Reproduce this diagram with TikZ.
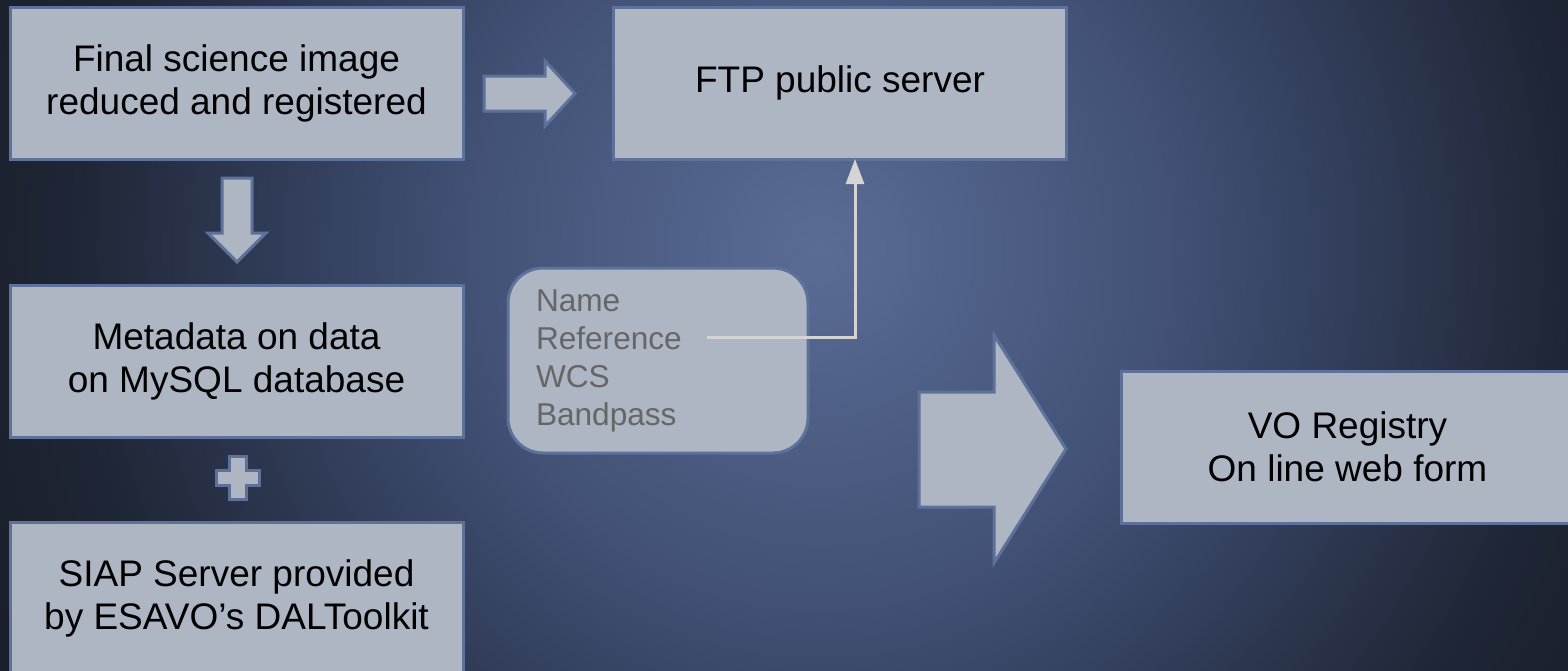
\documentclass[tikz,border=0pt]{standalone}
\usepackage{fontspec}
\setmainfont{Liberation Sans}
\usepackage{tikz}
\usetikzlibrary{arrows.meta}
\definecolor{boxfill}{HTML}{AEB5C3}
\definecolor{boxline}{HTML}{5D719B}
\definecolor{listtext}{HTML}{666666}
\definecolor{linkline}{HTML}{D4D4D4}
\definecolor{bgmid}{HTML}{5A6C96}
\definecolor{bgmidb}{HTML}{425175}
\definecolor{bgmidc}{HTML}{374464}
\definecolor{bgdark}{HTML}{1E2534}
\definecolor{bgedge}{HTML}{1A1F2B}
\pgfdeclareradialshading{bgglow}{\pgfpoint{0bp}{0bp}}{color(0bp)=(bgmid); color(9.7bp)=(bgmidb); color(13bp)=(bgmidc); color(21bp)=(bgdark); color(25bp)=(bgedge); color(50bp)=(bgedge)}
\tikzset{
stage/.style={draw=boxline, fill=boxfill, line width=1.5pt,
    minimum width=226.5pt, minimum height=76pt, align=center,
    font=\fontsize{18.5}{21.5}\selectfont, text=black},
fields/.style={draw=boxline, fill=boxfill, line width=1.5pt,
    rounded corners=17.5pt, minimum width=150pt, minimum height=92.5pt,
    text width=122pt, inner xsep=14pt, align=left,
    font=\fontsize{15.8}{19}\selectfont, text=listtext},
blockarrow/.style={draw=boxline, fill=boxfill, line width=1.5pt, line join=miter},
link/.style={draw=linkline, line width=1.5pt, -{Triangle[width=9pt,length=12.5pt]}}}
\begin{document}
\begin{tikzpicture}[x=0.5pt,y=-0.5pt]

                \useasboundingbox (0,0) rectangle (1568,670);
                \clip (0,0) rectangle (1568,670);
                \shade[shading=bgglow] (-80,-650) rectangle (1720,1150);

                \node[stage] (final) at (236.5,83) {Final science image\\reduced and registered};
                \node[stage] (ftp) at (840,83) {FTP public server};
                \node[stage] (meta) at (236.5,361) {Metadata on data\\on MySQL database};
                \node[stage] (siap) at (236.5,598) {SIAP Server provided\\by ESAVO’s DALToolkit};
                \node[stage] (vo) at (1347.5,447) {VO Registry\\On line web form};
                \node[fields] (list) at (658,360.5) {Name\\Reference\\WCS\\Bandpass};

                \draw[blockarrow] (484,76) -- (545,76) -- (545,61) -- (575,93.5) -- (545,126) -- (545,111) -- (484,111) -- cycle;
                \draw[blockarrow] (222,178) -- (252,178) -- (252,233) -- (266,233) -- (237,262) -- (208,233) -- (222,233) -- cycle;
                \draw[blockarrow] (919,392) -- (994,392) -- (994,335) -- (1066,449) -- (994,563) -- (994,507) -- (919,507) -- cycle;
                \draw[blockarrow] (229,456) -- (246,456) -- (246,470) -- (259,470) -- (259,485) -- (246,485) -- (246,499) -- (229,499)
                    -- (229,485) -- (216,485) -- (216,470) -- (229,470) -- cycle;

                \coordinate (refend) at (707,337);
                \coordinate (ftpin) at (855,159);
                \draw[link] (refend) -| (ftpin);

            \end{tikzpicture}
\end{document}
